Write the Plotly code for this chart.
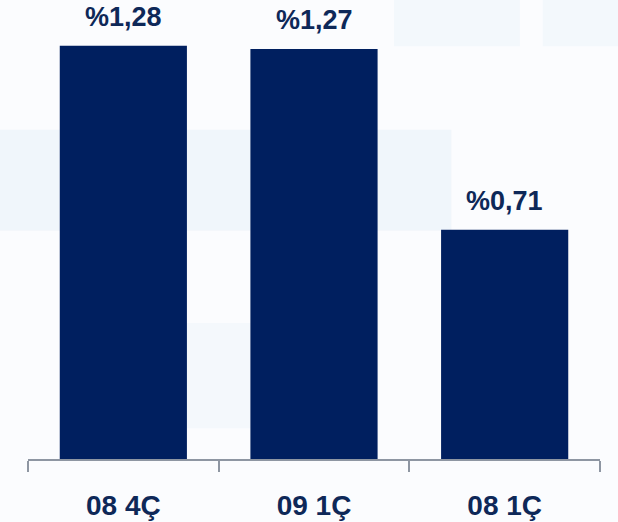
import plotly.graph_objects as go

categories = ["08 4Ç", "09 1Ç", "08 1Ç"]
values = [1.28, 1.27, 0.71]
value_labels = ["%1,28", "%1,27", "%0,71"]

bar_color = "#001F5F"
text_color = "#0E2858"
font_family = "Liberation Sans, Arial, sans-serif"

fig = go.Figure()
fig.add_trace(go.Bar(
    x=categories, y=values,
    marker=dict(color=bar_color, line=dict(width=0)),
    hoverinfo="skip",
))

for c, v, t in zip(categories, values, value_labels):
    fig.add_annotation(x=c, y=v, text=t, showarrow=False, yanchor="bottom",
                       yshift=12, font=dict(family=font_family, size=27,
                                            color=text_color, weight="bold"))

# faint decorative background panels
deco = [
    (-0.05, 0.74, 0.52, 0.75, "#E9F2F9"),
    (0.64, 0.86, 0.94, 1.05, "#EFF5FA"),
    (0.90, 1.05, 0.94, 1.05, "#EFF5FA"),
    (0.27, 0.39, 0.07, 0.31, "#F0F5FA"),
]
for x0, x1, y0, y1, col in deco:
    fig.add_shape(type="rect", xref="paper", yref="paper", x0=x0, x1=x1, y0=y0, y1=y1,
                  fillcolor=col, line=dict(width=0), layer="below", opacity=0.6)

fig.update_layout(
    width=618, height=522,
    margin=dict(l=28, r=18, t=20, b=63, autoexpand=False),
    paper_bgcolor="#FBFCFE", plot_bgcolor="rgba(0,0,0,0)",
    bargap=0.333, showlegend=False,
    xaxis=dict(
        showline=True, linecolor="#8E96A2", linewidth=2,
        ticks="outside", tickson="boundaries", ticklen=11, tickwidth=2, tickcolor="#8E96A2",
        tickfont=dict(family=font_family, size=28, color=text_color, weight="bold"),
        ticklabelstandoff=20, showgrid=False, automargin=False,
    ),
    yaxis=dict(range=[0, 1.36], visible=False, showgrid=False, zeroline=False, automargin=False),
)

fig.write_html("out.html", config={"displayModeBar": False, "staticPlot": True},
               post_script="document.body.style.margin='0';document.body.style.overflow='hidden';")
